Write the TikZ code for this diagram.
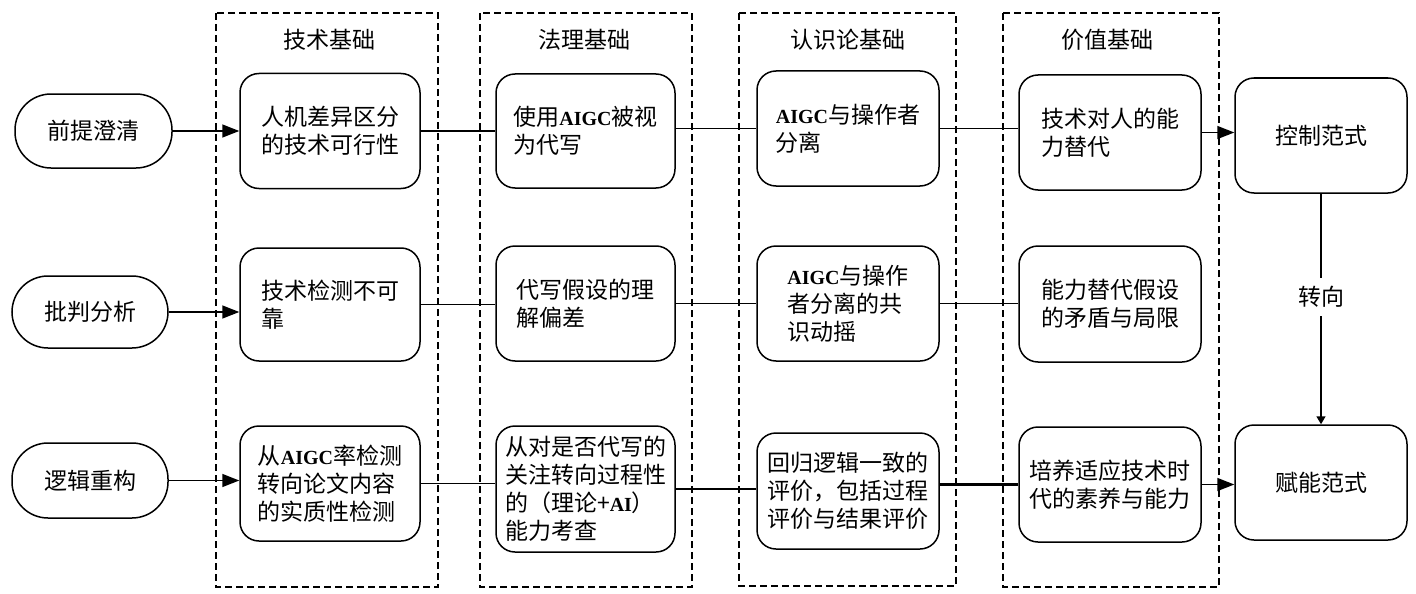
\documentclass[tikz,border=0pt]{standalone}
\usepackage{fontspec}
\setmainfont{Liberation Serif}
\newfontfamily\cjk{Noto Sans CJK SC}
\usetikzlibrary{arrows.meta}
\newcommand\latn[1]{{\rmfamily\bfseries\fontsize{20}{28}\selectfont #1}}
\tikzset{
  txt/.style={font=\cjk\fontsize{23}{28}\selectfont, align=left, inner sep=0pt},
  box/.style={txt, draw, line width=1.5pt, rounded corners=19pt},
  stad/.style={txt, draw, line width=1.5pt, rounded corners=36pt},
  frame/.style={draw, line width=1.7pt, dash pattern=on 7pt off 4pt},
  conn/.style={line width=1.5pt},
  arr/.style={line width=1.5pt, -{Triangle[length=17pt,width=13pt]}},
  varr/.style={line width=1.5pt, -{Triangle[length=8pt,width=9pt]}},
}
\begin{document}
\begin{tikzpicture}[x=1pt,y=-1pt]
\useasboundingbox[fill=white] (0,0) rectangle (1416,594);
% dashed frames
\draw[frame] (216,13) rectangle (438,587);
\draw[frame] (480,13) rectangle (692,587);
\draw[frame] (739,13) rectangle (956,586);
\draw[frame] (1003,13) rectangle (1219,587);
% titles
\node[txt] (t1) at (329,40) {技术基础};
\node[txt] (t2) at (584,40) {法理基础};
\node[txt] (t3) at (848,40) {认识论基础};
\node[txt] (t4) at (1107,40) {价值基础};
% left stadiums
\node[stad, minimum width=157pt, minimum height=74pt] (s1) at (93.5,131) {前提澄清};
\node[stad, minimum width=156pt, minimum height=72pt] (s2) at (90,312) {批判分析};
\node[stad, minimum width=156pt, minimum height=75pt] (s3) at (90,480.5) {逻辑重构};
% column 1
\node[box, minimum width=180pt, minimum height=115pt] (a1) at (330,131) {人机差异区分\\的技术可行性};
\node[box, minimum width=180pt, minimum height=113pt] (a2) at (330,304.5) {技术检测不可\\靠\phantom{测不可行性}};
\node[box, minimum width=180pt, minimum height=115pt] (a3) at (330,483.5) {从\latn{AIGC}率检测\\转向论文内容\\的实质性检测};
% column 2
\node[box, minimum width=179pt, minimum height=114pt] (b1) at (585.5,131) {使用\latn{AIGC}被视\\为代写};
\node[box, minimum width=179pt, minimum height=115pt] (b2) at (585.5,303.5) {代写假设的理\\解偏差};
\node[box, minimum width=179pt, minimum height=126pt] (b3) at (585.5,489) {从对是否代写的\\关注转向过程性\\的（理论+\latn{AI}）\\能力考查};
% column 3
\node[box, minimum width=182pt, minimum height=115pt] (c1) at (848,128.5) {\latn{AIGC}与操作者\\分离};
\node[box, minimum width=182pt, minimum height=115pt] (c2) at (848,303.5) {\latn{AIGC}与操作\\者分离的共\\识动摇};
\node[box, minimum width=182pt, minimum height=116pt] (c3) at (848,491) {回归逻辑一致的\\评价，包括过程\\评价与结果评价};
% column 4
\node[box, minimum width=182pt, minimum height=115pt] (d1) at (1110,132.5) {技术对人的能\\力替代};
\node[box, minimum width=182pt, minimum height=116pt] (d2) at (1110,304) {能力替代假设\\的矛盾与局限};
\node[box, minimum width=182pt, minimum height=115pt] (d3) at (1110,484.5) {培养适应技术时\\代的素养与能力};
% right
\node[box, minimum width=172pt, minimum height=115pt] (k1) at (1321,135.5) {控制范式};
\node[box, minimum width=172pt, minimum height=115pt] (k2) at (1321,482.5) {赋能范式};
% arrows from stadiums
\draw[arr] (s1.east) -- (s1.east -| a1.west);
\draw[arr] (s2.east) -- (s2.east -| a2.west);
\draw[arr] (s3.east) -- (s3.east -| a3.west);
% row connectors
\draw[conn] (a1.east) -- (a1.east -| b1.west);
\draw[conn] (b1.east |- c1.west) -- (c1.west);
\draw[conn] (c1.east) -- (c1.east -| d1.west);
\draw[conn] (a2.east) -- (a2.east -| b2.west);
\draw[conn] (b2.east) -- (b2.east -| c2.west);
\draw[conn] (c2.east) -- (c2.east -| d2.west);
\draw[conn] (a3.east) -- (a3.east -| b3.west);
\draw[conn] (b3.east) -- (b3.east -| c3.west);
\draw[conn, line width=2.4pt] (c3.east |- d3.west) -- (d3.west);
% to paradigms
\draw[arr] (d1.east) -- (d1.east -| k1.west);
\draw[arr] (d3.east) -- (d3.east -| k2.west);
\draw[varr] (k1.south) -- (k2.north);
\node[txt, fill=white, inner sep=8pt] (zx) at (1321,297) {转向};
\end{tikzpicture}
\end{document}
